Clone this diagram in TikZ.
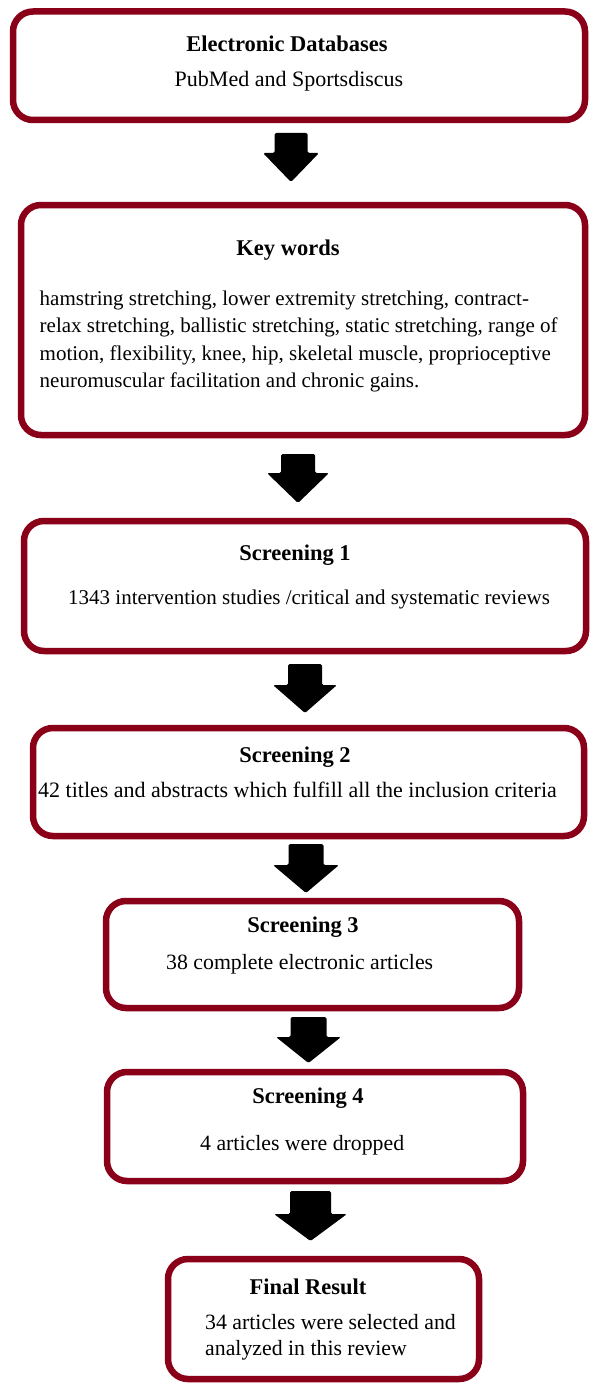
\documentclass[tikz,border=0pt]{standalone}
\usepackage{fontspec}
\setmainfont{Liberation Serif}
\definecolor{boxred}{RGB}{138,0,24}
\newcommand{\blockarr}[6]{% cx, top, shoulder, tip, halfhead, halfstem
  \fill[blk] (#1-#6,#2) -- (#1+#6,#2) -- (#1+#6,#3) -- (#1+#5,#3) -- (#1,#4) -- (#1-#5,#3) -- (#1-#6,#3) -- cycle;}
\begin{document}
\begin{tikzpicture}[x=1pt,y=-1pt,
  box/.style={draw=boxred, line width=6.5pt, rounded corners=20pt, inner sep=0pt, fill=white},
  head/.style={font=\bfseries\fontsize{22.5}{26}\selectfont, inner sep=0pt, anchor=base},
  ctxt/.style={font=\fontsize{22}{25}\selectfont, inner sep=0pt, anchor=base},
  ltxt/.style={font=\fontsize{21.8}{25}\selectfont, inner sep=0pt, anchor=base west},
  ktxt/.style={font=\fontsize{21}{25}\selectfont, inner sep=0pt, anchor=base west},
  blk/.style={fill=black, rounded corners=1.5pt}]
\fill[white] (0,0) rectangle (589,1383);
\useasboundingbox (0,0) rectangle (589,1383);
% boxes
\node[box, minimum width=572pt, minimum height=108.5pt] (b1) at (299,65.75) {};
\node[box, minimum width=564pt, minimum height=230pt] (b2) at (303,320) {};
\node[box, minimum width=562pt, minimum height=130pt] (b3) at (305,586) {};
\node[box, minimum width=551pt, minimum height=108pt] (b4) at (308.5,782) {};
\node[box, minimum width=413pt, minimum height=107pt] (b5) at (312.5,954.5) {};
\node[box, minimum width=416pt, minimum height=109pt] (b6) at (315,1126.5) {};
\node[box, minimum width=311pt, minimum height=120pt] (b7) at (323.5,1319) {};
% texts
\node[head] (t1a) at (287,52) {Electronic Databases};
\node[ctxt] (t1b) at (289,87) {PubMed and Sportsdiscus};
\node[head] (t2a) at (288,255) {Key words};
\node[ktxt] (t2b) at (39.5,305) {hamstring stretching, lower extremity stretching, contract-};
\node[ktxt] (t2c) at (39.5,332) {relax stretching, ballistic stretching, static stretching, range of};
\node[ktxt] (t2d) at (39.5,360) {motion, flexibility, knee, hip, skeletal muscle, proprioceptive};
\node[ktxt] (t2e) at (39.5,387) {neuromuscular facilitation and chronic gains.};
\node[head] (t3a) at (295,560) {Screening 1};
\node[ktxt] (t3b) at (68,604) {1343 intervention studies /critical and systematic reviews};
\node[head] (t4a) at (295,762) {Screening 2};
\node[ctxt] (t4b) at (297.5,797) {42 titles and abstracts which fulfill all the inclusion criteria};
\node[head] (t5a) at (303,932) {Screening 3};
\node[ltxt] (t5b) at (166,969) {38 complete electronic articles};
\node[head] (t6a) at (308,1103) {Screening 4};
\node[ltxt] (t6b) at (200,1150) {4 articles were dropped};
\node[head] (t7a) at (308,1294) {Final Result};
\node[ltxt] (t7b) at (205,1329) {34 articles were selected and};
\node[ltxt] (t7c) at (205,1355) {analyzed in this review};
% block arrows
\blockarr{291}{133}{153}{182}{28}{16.5}
\blockarr{298}{454}{473}{503}{31}{17}
\blockarr{305}{664}{685}{713}{32}{17}
\blockarr{306}{844}{865}{893}{33}{17.5}
\blockarr{308.5}{1017}{1037}{1063}{32.5}{18}
\blockarr{310.5}{1191}{1214}{1241}{36.5}{20.5}
\end{tikzpicture}
\end{document}
